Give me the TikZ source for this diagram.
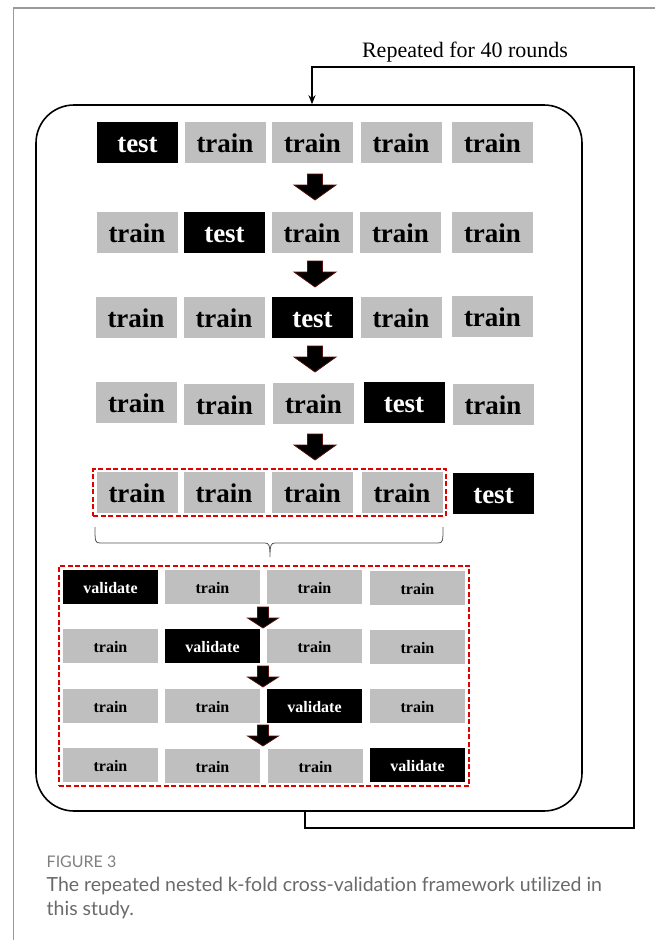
\documentclass[tikz,border=0pt]{standalone}
\usepackage{fontspec}
\setmainfont{Liberation Serif}
\newfontfamily\capfont[Ligatures=NoCommon]{Lato}
\usetikzlibrary{fit,arrows.meta}
\definecolor{cellgray}{HTML}{BFBFBF}
\definecolor{arrowrim}{HTML}{5A1208}
\definecolor{dashred}{HTML}{E00000}
\definecolor{framegray}{HTML}{9A9A9A}
\definecolor{capgray}{HTML}{6A6A6A}
\definecolor{bracegray}{HTML}{555555}

\begin{document}
\begin{tikzpicture}[x=1pt,y=-1pt,
  cell/.style={minimum width=81pt,minimum height=41pt,inner sep=0pt,
    text height=20pt,text depth=0pt,
    font=\bfseries\fontsize{27}{27}\selectfont},
  trn/.style={cell,fill=cellgray,text=black},
  tst/.style={cell,fill=black,text=white},
  fold/.style={minimum width=95pt,minimum height=34pt,inner sep=0pt,
    text height=12.6pt,text depth=0pt,
    font=\bfseries\fontsize{16}{16}\selectfont},
  ftrn/.style={fold,fill=cellgray,text=black},
  fval/.style={fold,fill=black,text=white},
  redbox/.style={draw=dashred,line width=1.7pt,dash pattern=on 5pt off 2.5pt,inner sep=3pt},
  loopline/.style={line width=1.6pt,black},
  captext/.style={anchor=base west,inner sep=0pt,text=capgray},
  bigarrow/.pic={\path[fill=black,draw=arrowrim,line width=0.8pt]
    (-7.5,0) -- (7.5,0) -- (7.5,11) -- (21,11) -- (0,26) -- (-21,11) -- (-7.5,11) -- cycle;},
  smallarrow/.pic={\path[fill=black,draw=arrowrim,line width=0.7pt]
    (-5.5,0) -- (5.5,0) -- (5.5,11) -- (15.5,11) -- (0,21) -- (-15.5,11) -- (-5.5,11) -- cycle;}
]
\useasboundingbox (0,0) rectangle (655,940);

% page frame
\draw[framegray,line width=1.3pt] (655,8) -- (13.5,8) -- (13.5,940);

% outer rounded box
\node[draw,line width=1.6pt,rounded corners=38pt,minimum width=546pt,minimum height=706pt,inner sep=0pt]
  (outer) at (309,458) {};

% repetition loop
\node[font=\fontsize{22}{22}\selectfont] (rounds) at (465,52) {Repeated for 40 rounds};
\draw[loopline,-{Stealth[length=9pt,width=7pt]}]
  ([xshift=-4pt]outer.south) |- (634,828) |- (312,67) -- ([xshift=3pt]outer.north);

% outer 5-fold rows
\node[tst] (r1c1) at (137.5,142.5) {test};
\node[trn] (r1c2) at (225,142.5) {train};
\node[trn] (r1c3) at (312.5,142.5) {train};
\node[trn] (r1c4) at (401,142.5) {train};
\node[trn] (r1c5) at (492.5,142.5) {train};

\node[trn] (r2c1) at (137,232) {train};
\node[tst] (r2c2) at (224.5,232) {test};
\node[trn] (r2c3) at (312,232) {train};
\node[trn] (r2c4) at (400.5,232) {train};
\node[trn] (r2c5) at (492.5,232) {train};

\node[trn] (r3c1) at (136,317) {train};
\node[trn] (r3c2) at (224,317) {train};
\node[tst] (r3c3) at (312.5,317) {test};
\node[trn] (r3c4) at (401,317) {train};
\node[trn] (r3c5) at (492.5,316) {train};

\node[trn] (r4c1) at (136.5,402) {train};
\node[trn] (r4c2) at (224.5,404.5) {train};
\node[trn] (r4c3) at (313.5,403) {train};
\node[tst] (r4c4) at (404,402) {test};
\node[trn] (r4c5) at (493,404.5) {train};

\node[trn] (r5c1) at (137,492.5) {train};
\node[trn] (r5c2) at (224,492.5) {train};
\node[trn] (r5c3) at (312.5,492.5) {train};
\node[trn] (r5c4) at (402,492.5) {train};
\node[tst] (r5c5) at (493.5,493.5) {test};

\pic at (315,174) {bigarrow};
\pic at (315,261) {bigarrow};
\pic at (315,346) {bigarrow};
\pic at (315,434) {bigarrow};

\node[redbox,fit=(r5c1)(r5c4)] (trainset) {};

% brace under the training folds
\draw[bracegray,line width=0.8pt]
  (95,527) .. controls (95,541) and (95,543) .. (100,543) -- (265,543)
  .. controls (269,543) and (270,545) .. (270,557)
  .. controls (270,545) and (271,543) .. (275,543) -- (438,543)
  .. controls (443,543) and (443,541) .. (443,527);

% inner 4-fold rows
\node[fval] (f1c1) at (110.5,587) {validate};
\node[ftrn] (f1c2) at (212.5,587) {train};
\node[ftrn] (f1c3) at (314.5,587) {train};
\node[ftrn] (f1c4) at (417.5,588) {train};

\node[ftrn] (f2c1) at (110.5,646) {train};
\node[fval] (f2c2) at (212.5,646) {validate};
\node[ftrn] (f2c3) at (314.5,646) {train};
\node[ftrn] (f2c4) at (417.5,647) {train};

\node[ftrn] (f3c1) at (110.5,706) {train};
\node[ftrn] (f3c2) at (212.5,706) {train};
\node[fval] (f3c3) at (314.5,706) {validate};
\node[ftrn] (f3c4) at (417.5,706) {train};

\node[ftrn] (f4c1) at (110.5,765) {train};
\node[ftrn] (f4c2) at (212.5,766) {train};
\node[ftrn] (f4c3) at (315.5,766) {train};
\node[fval] (f4c4) at (417.5,765) {validate};

\pic at (263,607) {smallarrow};
\pic at (263,666) {smallarrow};
\pic at (263,725) {smallarrow};

\node[redbox,inner sep=4pt,fit=(f1c1)(f4c4)] (innercv) {};

% caption
\node[captext,font=\capfont\fontsize{16}{16}\selectfont,text=capgray!85] (figno) at (46.5,867) {FIGURE 3};
\node[captext,font=\capfont\fontsize{19.5}{19.5}\selectfont] (cap1) at (46.5,891)
  {The repeated nested k-fold cross-validation framework utilized in};
\node[captext,font=\capfont\fontsize{19.5}{19.5}\selectfont] (cap2) at (46.5,915)
  {this study.};
\end{tikzpicture}
\end{document}
